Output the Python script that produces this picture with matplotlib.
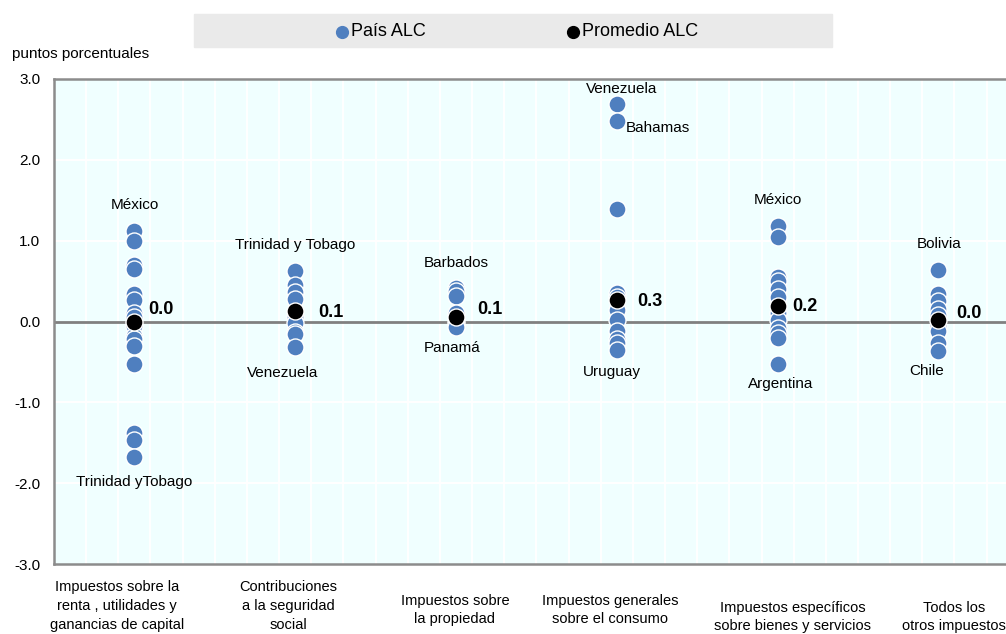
import matplotlib
matplotlib.use("Agg")
import matplotlib.pyplot as plt
import numpy as np
from matplotlib import font_manager

# ---- data -----------------------------------------------------------
categorias = [
    "Impuestos sobre la\nrenta , utilidades y\nganancias de capital",
    "Contribuciones\na la seguridad\nsocial",
    "Impuestos sobre\nla propiedad",
    "Impuestos generales\nsobre el consumo",
    "Impuestos específicos\nsobre bienes y servicios",
    "Todos los\notros impuestos",
]

pais_renta = [1.12, 1.00, 0.70, 0.65, 0.34, 0.27, 0.10, 0.06, -0.05, -0.18,
              -0.22, -0.30, -0.52, -1.38, -1.47, -1.68]
pais_seguridad = [0.63, 0.45, 0.37, 0.28, 0.05, -0.02, -0.13, -0.15, -0.31]
pais_propiedad = [0.42, 0.38, 0.31, 0.10, 0.02, -0.03, -0.07]
pais_consumo = [2.69, 2.48, 1.39, 0.35, 0.30, 0.14, 0.02, -0.12, -0.22,
                -0.27, -0.35]
pais_especificos = [1.18, 1.05, 0.55, 0.50, 0.40, 0.30, 0.10, 0.02, -0.08,
                    -0.14, -0.20, -0.53]
pais_otros = [0.64, 0.34, 0.25, 0.16, 0.08, -0.05, -0.12, -0.27, -0.36]

promedio_alc = [0.0, 0.13, 0.06, 0.26, 0.19, 0.02]

# country names attached to individual points: (category index, value, name)
paises_destacados = [
    (0, 1.12, "México"),
    (0, -1.68, "Trinidad yTobago"),
    (1, 0.63, "Trinidad y Tobago"),
    (1, -0.31, "Venezuela"),
    (2, 0.42, "Barbados"),
    (2, -0.07, "Panamá"),
    (3, 2.69, "Venezuela"),
    (3, 2.48, "Bahamas"),
    (3, -0.35, "Uruguay"),
    (4, 1.18, "México"),
    (4, -0.53, "Argentina"),
    (5, 0.64, "Bolivia"),
    (5, -0.36, "Chile"),
]

yticks = [-3.0, -2.0, -1.0, 0.0, 1.0, 2.0, 3.0]

# ---- styling ----------------------------------------------------------
installed = {f.name for f in font_manager.fontManager.ttflist}
narrow = "Liberation Sans Narrow" if "Liberation Sans Narrow" in installed else "Liberation Sans"
plt.rcParams["font.family"] = [narrow, "DejaVu Sans"]

BLUE = "#4F7FBF"
BG = "#F0FFFF"

fig = plt.figure(figsize=(10.06, 6.34), dpi=100)
W, H = 1006, 634
# plot panel (pixel geometry converted to figure fractions)
x0, x1, ytop, ybot = 54, 54 + 6 * 160.8, 79, 564
ax = fig.add_axes([x0 / W, (H - ybot) / H, (x1 - x0) / W, (ybot - ytop) / H])
ax.set_facecolor(BG)
ax.set_xlim(-0.5, 5.5)
ax.set_ylim(-3.0, 3.0)

# light grid
for gx in np.arange(-0.3, 5.5, 0.2):
    ax.axvline(gx, color="white", lw=1.4, zorder=0)
for gy in [-2, -1, 1, 2]:
    ax.axhline(gy, color="white", lw=1.5, zorder=0)
ax.axhline(0, color="#808080", lw=2, zorder=1)

for side in ["top", "bottom", "left"]:
    ax.spines[side].set_color("#8C8C8C")
    ax.spines[side].set_linewidth(1.8)
ax.spines["right"].set_visible(False)

series = [pais_renta, pais_seguridad, pais_propiedad, pais_consumo,
          pais_especificos, pais_otros]
for i, vals in enumerate(series):
    ax.scatter(np.full(len(vals), i), vals, s=150, color=BLUE,
               edgecolors="white", linewidths=1.0, zorder=3)

ax.scatter(np.arange(len(promedio_alc)), promedio_alc, s=150, color="black",
           edgecolors="white", linewidths=1.0, zorder=4)

# average value labels
avg_offsets = [(14, 12), (23, -2), (21, 7), (20, -1), (15, 0), (18, 6)]
for i, (v, off) in enumerate(zip(promedio_alc, avg_offsets)):
    ax.annotate(f"{v:.1f}", (i, v), xytext=off, textcoords="offset pixels",
                ha="left", va="center", fontsize=13, fontweight="bold",
                family=["Liberation Sans", "DejaVu Sans"], zorder=5)

# country labels
name_offsets = [(0, 26, "center"), (0, -25, "center"),
                (0, 26, "center"), (-13, -26, "center"),
                (0, 25, "center"), (-4, -21, "center"),
                (5, 15, "center"), (9, -7, "left"), (-5, -22, "center"),
                (0, 26, "center"), (3, -20, "center"),
                (1, 26, "center"), (-12, -20, "center")]
for (i, v, name), (dx, dy, ha) in zip(paises_destacados, name_offsets):
    ax.annotate(name, (i, v), xytext=(dx, dy), textcoords="offset pixels",
                ha=ha, va="center", fontsize=11, zorder=5)

# axes ticks
ax.set_yticks(yticks)
ax.set_yticklabels([f"{t:.1f}" for t in yticks], fontsize=11)
ax.tick_params(axis="y", length=0, pad=10)
ax.set_xticks([])

# category labels below the panel (own horizontal spacing, in pixels)
cat_x = [117, 288, 455, 610, 793, 954]
cat_y = [606, 606, 610, 610, 617, 617]
for lab, xp, yp in zip(categorias, cat_x, cat_y):
    fig.text(xp / W, 1 - yp / H, lab, ha="center", va="center",
             fontsize=10.5, linespacing=1.45)

fig.text(12 / W, 1 - 54 / H, "puntos porcentuales", ha="left", va="center",
         fontsize=11)

# legend band
fig.patches.append(plt.Rectangle((194 / W, 1 - 47 / H), (832 - 194) / W,
                                 33 / H, transform=fig.transFigure,
                                 color="#EAEAEA", zorder=0))
fig.lines.append(plt.Line2D([342 / W], [1 - 32 / H], marker="o", ms=8.5,
                            color=BLUE, transform=fig.transFigure))
fig.text(351 / W, 1 - 31 / H, "País ALC", ha="left", va="center", fontsize=13)
fig.lines.append(plt.Line2D([573 / W], [1 - 32 / H], marker="o", ms=8.5,
                            color="black", transform=fig.transFigure))
fig.text(582 / W, 1 - 31 / H, "Promedio ALC", ha="left", va="center",
         fontsize=13)

fig.savefig("out.png", dpi=100)
